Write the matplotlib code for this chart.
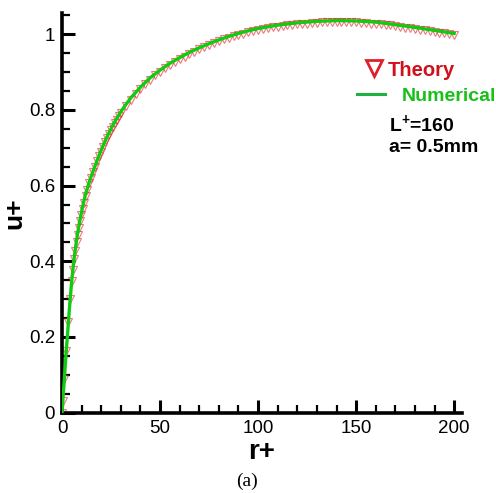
import numpy as np
import matplotlib
matplotlib.use('Agg')
from matplotlib import pyplot as plt
from matplotlib.lines import Line2D
from matplotlib.ticker import MultipleLocator

plt.rcParams['font.family'] = ['Liberation Sans', 'DejaVu Sans']
plt.rcParams['mathtext.fontset'] = 'custom'
plt.rcParams['mathtext.bf'] = 'Liberation Sans:bold'
plt.rcParams['mathtext.rm'] = 'Liberation Sans'

# numerical solution (green line)
num_r = [0, 1, 2, 3, 4, 5, 6, 7, 8, 9, 10, 11, 12, 13, 14, 15, 16, 18, 20, 22,
         24, 26, 28, 30, 32, 35, 40, 45, 50, 55, 60, 65, 70, 75, 80, 85, 90, 95,
         100, 110, 120, 130, 140, 150, 160, 170, 180, 190, 200]
num_u = [0.0, 0.075, 0.15, 0.22, 0.29, 0.35, 0.40, 0.44, 0.475, 0.505, 0.531,
         0.555, 0.577, 0.594, 0.611, 0.626, 0.640, 0.668, 0.694, 0.718, 0.740,
         0.760, 0.778, 0.795, 0.810, 0.831, 0.860, 0.885, 0.905, 0.923, 0.938,
         0.952, 0.964, 0.975, 0.985, 0.994, 1.002, 1.009, 1.015, 1.024, 1.030,
         1.034, 1.036, 1.035, 1.032, 1.025, 1.018, 1.010, 1.002]

# theory (red triangles)
th_r = [0, 0.4, 1.2, 2.2, 3.3, 4.2, 5.0, 5.6, 6.2, 6.8, 7.4, 8.0, 8.6, 9.2, 9.8,
        10.5, 11.2, 12, 13, 14, 15, 16, 17, 18, 19, 20, 21, 22, 23, 24, 25, 26,
        27, 28, 29, 30, 32.5, 35, 37.5, 40, 42.5, 45, 47.5, 50, 52.5, 55, 57.5,
        60, 62.5, 65, 67.5, 70, 72.5, 75, 77.5, 80, 82.5, 85, 87.5, 90, 92.5, 95,
        97.5, 100, 102.5, 105, 107.5, 110, 112.5, 115, 117.5, 120, 122.5, 125,
        127.5, 130, 132.5, 135, 137.5, 140, 142.5, 145, 147.5, 150, 152.5, 155,
        157.5, 160, 162.5, 165, 167.5, 170, 172.5, 175, 177.5, 180, 182.5, 185,
        187.5, 190, 192.5, 195, 197.5, 200]
th_u = [0.0, 0.03, 0.088, 0.162, 0.24, 0.30, 0.347, 0.376, 0.405, 0.428, 0.450,
        0.470, 0.489, 0.506, 0.521, 0.538, 0.554, 0.572, 0.589, 0.606, 0.621,
        0.636, 0.650, 0.664, 0.677, 0.690, 0.702, 0.714, 0.725, 0.736, 0.746,
        0.756, 0.765, 0.774, 0.783, 0.791, 0.809, 0.826, 0.841, 0.855, 0.868,
        0.880, 0.891, 0.901, 0.910, 0.919, 0.927, 0.934, 0.941, 0.948, 0.954,
        0.960, 0.966, 0.971, 0.976, 0.981, 0.986, 0.990, 0.994, 0.998, 1.001,
        1.005, 1.008, 1.011, 1.013, 1.016, 1.018, 1.020, 1.022, 1.024, 1.025,
        1.026, 1.027, 1.028, 1.029, 1.030, 1.031, 1.031, 1.032, 1.032, 1.032,
        1.032, 1.031, 1.031, 1.030, 1.029, 1.028, 1.027, 1.026, 1.024, 1.023,
        1.021, 1.019, 1.017, 1.016, 1.014, 1.012, 1.010, 1.008, 1.006, 1.004,
        1.002, 1.000, 0.998]

red = '#e0202a'
green = '#10cc10'

fig = plt.figure(figsize=(4.96, 4.93), dpi=100)
ax = fig.add_axes([62/496, 1-412.7/493, 400/496, 399.7/493])

ax.plot(th_r, th_u, linestyle='none', marker='v', markersize=5.5,
        markerfacecolor='none', markeredgecolor=red, markeredgewidth=0.8,
        alpha=0.6, zorder=2)
ax.plot(num_r, num_u, color=green, linewidth=2.4, zorder=3)

ax.set_xlim(0, 204)
ax.set_ylim(0, 1.056)
for s in ['top', 'right']:
    ax.spines[s].set_visible(False)
for s in ['left', 'bottom']:
    ax.spines[s].set_linewidth(2.6)
    ax.spines[s].set_capstyle('projecting')

ax.xaxis.set_major_locator(MultipleLocator(50))
ax.xaxis.set_minor_locator(MultipleLocator(10))
ax.yaxis.set_major_locator(MultipleLocator(0.2))
ax.yaxis.set_minor_locator(MultipleLocator(0.05))
ax.yaxis.set_major_formatter(plt.FuncFormatter(lambda v, p: '%g' % round(v, 2)))
ax.tick_params(which='major', direction='in', length=9.5, width=2.2,
               labelsize=13.5, pad=5)
ax.tick_params(which='minor', direction='in', length=6, width=1.6)

ax.set_xlabel('r+', fontsize=20, fontweight='bold', labelpad=2)
ax.set_ylabel('u+', fontsize=19, fontweight='bold')
ax.yaxis.set_label_coords(-0.088, 0.5)

# legend entries, placed like the original
h_th = Line2D([], [], linestyle='none', marker='v', markersize=12,
              markerfacecolor='none', markeredgecolor=red, markeredgewidth=2)
h_num = Line2D([], [], color='#20b040', linewidth=2.2)
leg1 = ax.legend([h_th], ['Theory'], loc='center left',
                 bbox_to_anchor=(364/496, 1-70/493), bbox_transform=fig.transFigure,
                 frameon=False, borderpad=0, borderaxespad=0, handlelength=1.0,
                 handletextpad=0.2, prop={'size': 14.5, 'weight': 'bold'},
                 labelcolor='#d0101a')
ax.add_artist(leg1)
ax.legend([h_num], ['Numerical'], loc='center left',
          bbox_to_anchor=(357/496, 1-96/493), bbox_transform=fig.transFigure,
          frameon=False, borderpad=0, borderaxespad=0, handlelength=1.45,
          handletextpad=0.85, prop={'size': 14, 'weight': 'bold'},
          labelcolor='#18c018')

fig.text(389/496, 1-124/493, r'$\mathbf{L^{+}}$=160', fontsize=14,
         fontweight='bold', va='center', ha='left')
fig.text(389/496, 1-147/493, 'a= 0.5mm', fontsize=14, fontweight='bold',
         va='center', ha='left')

fig.text(247/496, 1-481/493, '(a)', fontsize=14, family='Liberation Serif',
         ha='center', va='center')

fig.savefig('out.png', dpi=100)
